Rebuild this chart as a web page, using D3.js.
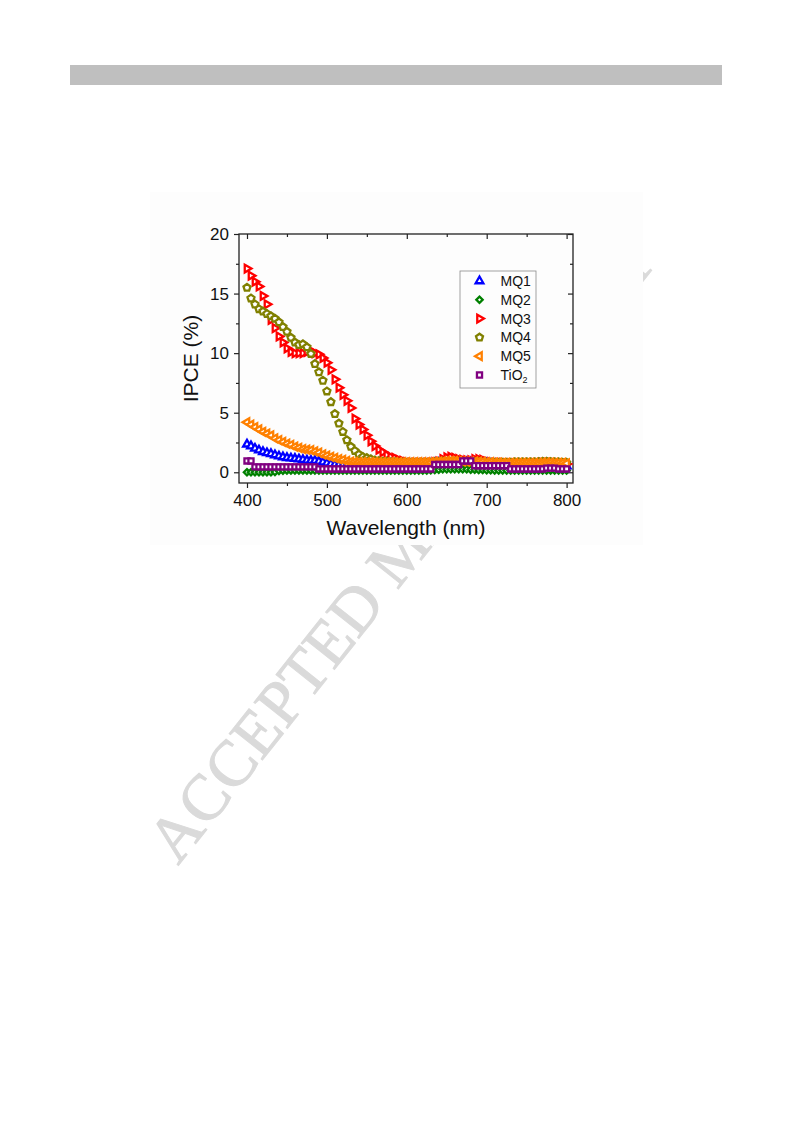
<!DOCTYPE html>
<html>
<head>
<meta charset="utf-8">
<script src="https://cdn.jsdelivr.net/npm/d3@7"></script>
<style>
  html, body { margin: 0; padding: 0; background: #ffffff; }
  svg { display: block; }
</style>
</head>
<body>
<svg id="chart" width="793" height="1123"></svg>
<script>
// ---------------- data ----------------
const wavelength = [400,405,410,415,420,425,430,435,440,445,450,455,460,465,470,475,480,485,490,495,
  500,505,510,515,520,525,530,535,540,545,550,555,560,565,570,575,580,585,590,595,
  600,605,610,615,620,625,630,635,640,645,650,655,660,665,670,675,680,685,690,695,
  700,705,710,715,720,725,730,735,740,745,750,755,760,765,770,775,780,785,790,795,800];

const MQ1 = [2.35,2.2,2.0,1.85,1.72,1.62,1.55,1.45,1.35,1.28,1.22,1.18,1.15,1.1,1.05,1.0,0.98,0.97,0.92,0.85,
  0.76,0.7,0.65,0.62,0.6,0.6,0.58,0.58,0.58,0.58,0.58,0.58,0.58,0.58,0.58,0.58,0.6,0.6,0.6,0.6,
  0.6,0.6,0.6,0.62,0.62,0.65,0.7,0.75,0.8,0.85,0.9,0.9,0.9,0.88,0.85,0.85,0.85,0.85,0.82,0.8,
  0.75,0.7,0.65,0.62,0.6,0.6,0.6,0.6,0.6,0.6,0.6,0.6,0.6,0.6,0.6,0.6,0.6,0.58,0.55,0.55,0.52];

const MQ2 = [0.0,0.0,0.0,0.0,0.0,0.0,0.0,0.02,0.12,0.14,0.15,0.15,0.15,0.15,0.15,0.15,0.15,0.15,0.15,0.15,
  0.15,0.15,0.15,0.15,0.15,0.15,0.15,0.15,0.15,0.15,0.15,0.15,0.15,0.15,0.15,0.15,0.15,0.15,0.15,0.15,
  0.15,0.15,0.15,0.15,0.15,0.15,0.18,0.2,0.22,0.25,0.25,0.25,0.25,0.25,0.25,0.25,0.22,0.22,0.2,0.2,
  0.18,0.18,0.15,0.15,0.15,0.15,0.15,0.15,0.15,0.15,0.15,0.15,0.15,0.15,0.15,0.15,0.15,0.15,0.15,0.15,0.15];

const MQ3 = [17.1,16.5,16.0,15.6,14.8,14.1,12.8,12.1,11.4,10.9,10.4,10.1,10.0,10.0,10.0,10.1,10.2,10.0,9.9,9.6,
  9.2,8.6,7.8,7.1,6.5,6.0,5.4,4.5,4.0,3.6,3.1,2.6,2.2,1.9,1.7,1.45,1.3,1.2,1.05,0.95,
  0.85,0.8,0.8,0.8,0.8,0.8,0.8,0.85,0.9,1.1,1.25,1.3,1.2,1.1,1.05,1.0,1.0,1.1,1.1,1.05,
  0.9,0.85,0.8,0.8,0.8,0.75,0.75,0.75,0.75,0.75,0.75,0.75,0.75,0.75,0.8,0.8,0.8,0.75,0.75,0.7,0.7];

const MQ4 = [15.5,14.6,14.1,13.7,13.5,13.3,13.1,12.9,12.6,12.2,11.8,11.3,10.9,10.7,10.75,10.5,9.95,9.1,8.4,7.7,
  6.8,5.9,4.9,4.1,3.4,2.7,2.15,1.8,1.5,1.3,1.2,1.1,1.0,0.95,0.9,0.9,0.85,0.85,0.8,0.8,
  0.8,0.8,0.8,0.8,0.8,0.8,0.82,0.85,0.88,0.9,0.9,0.9,0.9,0.88,0.88,0.85,0.85,0.85,0.85,0.82,
  0.8,0.8,0.8,0.8,0.8,0.8,0.82,0.85,0.85,0.85,0.85,0.85,0.85,0.88,0.9,0.9,0.88,0.85,0.85,0.82,0.8];

const MQ5 = [4.2,4.0,3.8,3.6,3.4,3.25,3.1,2.85,2.7,2.55,2.4,2.3,2.15,2.05,1.95,1.9,1.85,1.75,1.65,1.5,
  1.4,1.3,1.2,1.1,1.05,0.95,0.9,0.88,0.86,0.85,0.85,0.85,0.85,0.85,0.85,0.85,0.85,0.85,0.85,0.85,
  0.85,0.85,0.85,0.85,0.85,0.85,0.85,0.88,0.9,0.92,0.95,0.95,0.95,0.95,0.92,0.92,0.9,0.9,0.9,0.88,
  0.85,0.85,0.82,0.82,0.8,0.8,0.8,0.8,0.8,0.8,0.8,0.8,0.8,0.8,0.82,0.82,0.82,0.8,0.8,0.78,0.75];

const TiO2 = [0.95,0.95,0.45,0.45,0.45,0.45,0.45,0.45,0.45,0.45,0.45,0.45,0.45,0.45,0.45,0.45,0.45,0.45,0.28,0.28,
  0.28,0.28,0.28,0.28,0.28,0.28,0.28,0.28,0.28,0.28,0.28,0.28,0.28,0.28,0.28,0.28,0.28,0.28,0.28,0.28,
  0.28,0.28,0.28,0.28,0.28,0.28,0.28,0.65,0.65,0.65,0.65,0.65,0.65,0.65,0.95,0.95,0.95,0.55,0.55,0.55,
  0.55,0.55,0.55,0.55,0.55,0.55,0.28,0.28,0.28,0.28,0.28,0.28,0.28,0.28,0.28,0.35,0.35,0.35,0.28,0.28,0.28];

const seriesNames = ["MQ1", "MQ2", "MQ3", "MQ4", "MQ5", "TiO2"];
const seriesValues = [MQ1, MQ2, MQ3, MQ4, MQ5, TiO2];
const seriesColors = ["#0000ff", "#008000", "#ff0000", "#808000", "#ff8000", "#800080"];
const seriesShapes = ["triUp", "diamond", "triRight", "pentagon", "triLeft", "square"];

const xTicks = [400, 500, 600, 700, 800];
const xMinor = [450, 550, 650, 750];
const yTicks = [0, 5, 10, 15, 20];
const yMinor = [2.5, 7.5, 12.5, 17.5];

// ---------------- drawing ----------------
const svg = d3.select("#chart");
svg.append("rect").attr("width", 793).attr("height", 1123).attr("fill", "#ffffff");

// header bar
svg.append("rect").attr("x", 70).attr("y", 65).attr("width", 652).attr("height", 20).attr("fill", "#bfbfbf");

// watermark
svg.append("text")
  .attr("transform", "translate(178,866) rotate(-51.5)")
  .attr("font-family", "Liberation Serif, Times New Roman, serif")
  .attr("font-size", 65)
  .attr("fill", "#dadada")
  .attr("stroke", "#dadada")
  .attr("stroke-width", 1)
  .text("ACCEPTED MANUSCRIPT");

// chart image background
svg.append("rect").attr("x", 150).attr("y", 192).attr("width", 493).attr("height", 353).attr("fill", "#fdfdfd");

const L = 239, R = 573, T = 234, B = 483;
const x = d3.scaleLinear().domain([390, 808]).range([L, R]);
const y = d3.scaleLinear().domain([-0.9, 20]).range([B, T]);

const font = "Liberation Sans, Arial, sans-serif";
const axisColor = "#222";

function styleAxis(g) {
  g.select(".domain").remove();
  g.selectAll(".tick line").attr("stroke", axisColor).attr("stroke-width", 1.2);
  g.selectAll(".tick text").attr("font-family", font).attr("fill", "#111");
}

// bottom axis
const gB = svg.append("g").attr("transform", `translate(0,${B})`)
  .call(d3.axisBottom(x).tickValues(xTicks).tickSize(5).tickPadding(6).tickFormat(d3.format("d")));
styleAxis(gB); gB.selectAll(".tick text").attr("font-size", 17);
const gBm = svg.append("g").attr("transform", `translate(0,${B})`)
  .call(d3.axisBottom(x).tickValues(xMinor).tickSize(3).tickFormat(""));
styleAxis(gBm);

// top axis (inward)
const gT = svg.append("g").attr("transform", `translate(0,${T})`)
  .call(d3.axisTop(x).tickValues(xTicks).tickSize(-5).tickFormat(""));
styleAxis(gT);
const gTm = svg.append("g").attr("transform", `translate(0,${T})`)
  .call(d3.axisTop(x).tickValues(xMinor).tickSize(-3).tickFormat(""));
styleAxis(gTm);

// left axis
const gL = svg.append("g").attr("transform", `translate(${L},0)`)
  .call(d3.axisLeft(y).tickValues(yTicks).tickSize(5).tickPadding(5).tickFormat(d3.format("d")));
styleAxis(gL); gL.selectAll(".tick text").attr("font-size", 17);
const gLm = svg.append("g").attr("transform", `translate(${L},0)`)
  .call(d3.axisLeft(y).tickValues(yMinor).tickSize(3).tickFormat(""));
styleAxis(gLm);

// right axis (inward)
const gR = svg.append("g").attr("transform", `translate(${R},0)`)
  .call(d3.axisRight(y).tickValues(yTicks).tickSize(-5).tickFormat(""));
styleAxis(gR);
const gRm = svg.append("g").attr("transform", `translate(${R},0)`)
  .call(d3.axisRight(y).tickValues(yMinor).tickSize(-3).tickFormat(""));
styleAxis(gRm);

// frame
svg.append("rect").attr("x", L).attr("y", T).attr("width", R - L).attr("height", B - T)
  .attr("fill", "none").attr("stroke", axisColor).attr("stroke-width", 1.3);

// axis titles
svg.append("text").attr("x", (L + R) / 2).attr("y", 535).attr("text-anchor", "middle")
  .attr("font-family", font).attr("font-size", 21).attr("fill", "#111").text("Wavelength (nm)");
svg.append("text").attr("transform", `translate(198,${(T + B) / 2}) rotate(-90)`).attr("text-anchor", "middle")
  .attr("font-family", font).attr("font-size", 21).attr("fill", "#111").text("IPCE (%)");

// marker shapes
function pentagonPath(r) {
  const pts = d3.range(5).map(i => {
    const a = -Math.PI / 2 + i * 2 * Math.PI / 5;
    return [r * Math.cos(a), r * Math.sin(a)];
  });
  return "M" + pts.map(p => p.join(",")).join("L") + "Z";
}
function markerPath(shape) {
  switch (shape) {
    case "triUp": return { d: d3.symbol(d3.symbolTriangle, 26)(), rot: 0 };
    case "triRight": return { d: d3.symbol(d3.symbolTriangle, 26)(), rot: 90 };
    case "triLeft": return { d: d3.symbol(d3.symbolTriangle, 26)(), rot: -90 };
    case "diamond": return { d: d3.symbol(d3.symbolSquare, 20)(), rot: 45 };
    case "square": return { d: d3.symbol(d3.symbolSquare, 26)(), rot: 0 };
    case "pentagon": return { d: pentagonPath(3.7), rot: 0 };
  }
}

const plot = svg.append("g");
seriesNames.forEach((name, si) => {
  const m = markerPath(seriesShapes[si]);
  const vals = seriesValues[si];
  plot.append("g").selectAll("path")
    .data(wavelength.map((w, i) => [w, vals[i]]))
    .join("path")
    .attr("d", m.d)
    .attr("transform", d => `translate(${x(d[0])},${y(d[1])}) rotate(${m.rot})`)
    .attr("fill", "#ffffff")
    .attr("stroke", seriesColors[si])
    .attr("stroke-width", 2.3);
});

// legend
const lg = svg.append("g");
lg.append("rect").attr("x", 460).attr("y", 271).attr("width", 76).attr("height", 117)
  .attr("fill", "none").attr("stroke", "#8a8a8a").attr("stroke-width", 0.8);
seriesNames.forEach((name, si) => {
  const yy = 281 + si * 18.8;
  const m = markerPath(seriesShapes[si]);
  lg.append("path").attr("d", m.d)
    .attr("transform", `translate(479.5,${yy}) rotate(${m.rot})`)
    .attr("fill", "#ffffff").attr("stroke", seriesColors[si]).attr("stroke-width", 2.3);
  const t = lg.append("text").attr("x", 500.5).attr("y", yy + 5)
    .attr("font-family", font).attr("font-size", 14).attr("fill", "#111");
  if (name === "TiO2") {
    t.append("tspan").text("TiO");
    t.append("tspan").attr("font-size", 9).attr("dy", 3).text("2");
  } else {
    t.text(name);
  }
});
</script>
</body>
</html>
